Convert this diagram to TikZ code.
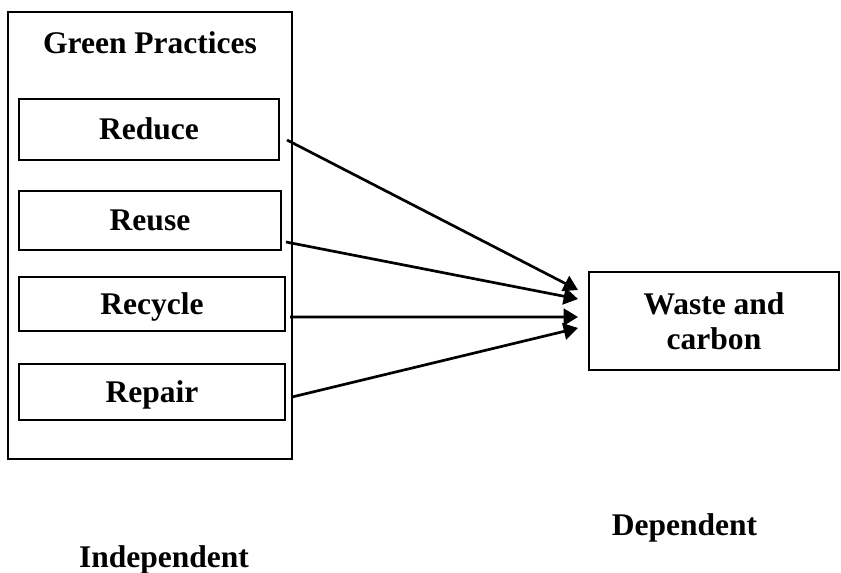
\documentclass[tikz,border=0pt]{standalone}
\usepackage{fontspec}
\setmainfont{Liberation Serif}
\usepackage{tikz}
\usetikzlibrary{arrows.meta}

\tikzset{
  box/.style={draw, line width=1pt, inner sep=0pt, outer sep=0pt,
    font=\fontsize{26.9pt}{30pt}\selectfont\bfseries},
  item/.style={box, text height=24.2pt, text depth=6.5pt},
  lbl/.style={inner sep=0pt, anchor=base,
    font=\fontsize{26.9pt}{30pt}\selectfont\bfseries},
  arr/.style={line width=2.3pt, -{Triangle[length=0.43cm, width=0.5cm]}}
}

\begin{document}
\begin{tikzpicture}[x=0.3cm, y=-0.3cm]
        \useasboundingbox (0, 0) rectangle (84.1, 57.3);

        \node[box, minimum width=8.52cm, minimum height=13.41cm] (G) at (15.0, 23.55) {};
        \node[lbl] (title) at (15.0, 5.3) {Green Practices};

        \node[item, minimum width=7.8cm, minimum height=1.83cm] (red) at (14.9, 12.95) {Reduce};
        \node[item, minimum width=7.86cm, minimum height=1.77cm] (reu) at (15.0, 22.05) {Reuse};
        \node[item, minimum width=7.98cm, minimum height=1.62cm] (rec) at (15.2, 30.4) {Recycle};
        \node[item, minimum width=7.98cm, minimum height=1.68cm] (rep) at (15.2, 39.2) {Repair};

        \node[box, align=center, minimum width=7.5cm, minimum height=2.94cm] (W) at (71.4, 32.1) {Waste and\\carbon};

        \draw[arr] ([shift={(0.8, 1.05)}]red.east) to ([shift={(-1.1, -3.1)}]W.west);
        \draw[arr] ([shift={(0.5, 2.15)}]reu.east) to ([shift={(-1.1, -2.2)}]W.west);
        \draw[arr] ([shift={(0.5, 1.3)}]rec.east) to ([shift={(-1.1, -0.4)}]W.west);
        \draw[arr] ([shift={(0.7, 0.5)}]rep.east) to ([shift={(-1.1, 0.7)}]W.west);

        \node[lbl] (dep) at (68.45, 53.5) {Dependent};
        \node[lbl] (ind) at (16.4, 56.7) {Independent};
      \end{tikzpicture}
\end{document}
